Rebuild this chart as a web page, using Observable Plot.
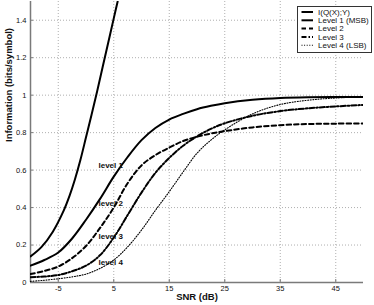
<!DOCTYPE html>
<html>
<head>
<meta charset="utf-8">
<script src="https://cdn.jsdelivr.net/npm/d3@7"></script>
<script src="https://cdn.jsdelivr.net/npm/@observablehq/plot@0.6"></script>
<style>
  html, body { margin: 0; padding: 0; background: #fff; }
  #wrap { position: relative; width: 374px; height: 305px; font-family: "Liberation Sans", Arial, Helvetica, sans-serif; }
  #legend { position: absolute; left: 0; top: 0; pointer-events: none; }
</style>
</head>
<body>
<div id="wrap"></div>
<script>
// ---- data ----
const snrI  = [-10, -8, -6, -4, -3, -2, -1, 0, 1, 2, 3, 4, 5, 5.7];
const infoI = [0.139, 0.19, 0.27, 0.385, 0.46, 0.55, 0.655, 0.775, 0.895, 1.02, 1.15, 1.28, 1.41, 1.5];

const snrLevels = [-10, -7.5, -5, -2.5, 0, 2.5, 5, 7.5, 10, 12.5, 15, 17.5, 20, 22.5, 25, 30, 35, 40, 45, 50];
const level1 = [0.09, 0.12, 0.16, 0.235, 0.335, 0.445, 0.565, 0.67, 0.76, 0.825, 0.87, 0.9, 0.925, 0.943, 0.957, 0.975, 0.985, 0.989, 0.99, 0.99];
const level2 = [0.045, 0.062, 0.085, 0.13, 0.195, 0.29, 0.4, 0.53, 0.625, 0.68, 0.72, 0.755, 0.778, 0.795, 0.808, 0.828, 0.84, 0.846, 0.848, 0.849];
const level3 = [0.028, 0.032, 0.04, 0.06, 0.09, 0.145, 0.24, 0.36, 0.48, 0.585, 0.665, 0.73, 0.78, 0.82, 0.85, 0.89, 0.915, 0.93, 0.94, 0.948];
const level4 = [0.006, 0.012, 0.02, 0.03, 0.045, 0.075, 0.12, 0.19, 0.28, 0.385, 0.485, 0.59, 0.69, 0.76, 0.815, 0.9, 0.95, 0.973, 0.985, 0.99];

const seriesNames = ["I(Q(X);Y)", "Level 1 (MSB)", "Level 2", "Level 3", "Level 4 (LSB)"];

const xTicks = [-5, 5, 15, 25, 35, 45];
const yTicks = [0, 0.2, 0.4, 0.6, 0.8, 1, 1.2, 1.4];
const yTickLabels = ["0", "0.2", "0.4", "0.6", "0.8", "1", "1.2", "1.4"];

const inlineLabels = ["level 1", "level 2", "level 3", "level 4"];
const inlineLabelX = [2.25, 2.25, 2.25, 2.25];
const inlineLabelY = [0.626, 0.424, 0.246, 0.109];

// ---- styles ----
const styles = [
  {strokeWidth: 2, dash: null},
  {strokeWidth: 2, dash: null},
  {strokeWidth: 2, dash: "4.5,3"},
  {strokeWidth: 2, dash: "5,2,1.5,2"},
  {strokeWidth: 1.1, dash: "1,1.6"}
];

const seriesData = [
  snrI.map((s, i) => ({snr: s, v: infoI[i]})),
  snrLevels.map((s, i) => ({snr: s, v: level1[i]})),
  snrLevels.map((s, i) => ({snr: s, v: level2[i]})),
  snrLevels.map((s, i) => ({snr: s, v: level3[i]})),
  snrLevels.map((s, i) => ({snr: s, v: level4[i]}))
];

const labelRows = inlineLabels.map((t, i) => ({t, x: inlineLabelX[i], y: inlineLabelY[i]}));

const W = 374, H = 305, ML = 30, MR = 11, MT = 1, MB = 23;
const gridStyle = {stroke: "#9a9a9a", strokeOpacity: 1, strokeWidth: 0.8, strokeDasharray: "1,2"};

const chart = Plot.plot({
  width: W, height: H,
  marginLeft: ML, marginRight: MR, marginTop: MT, marginBottom: MB,
  style: {fontFamily: "Liberation Sans, Arial, Helvetica, sans-serif", background: "#fff", color: "#111"},
  x: {domain: [-10, 50]},
  y: {domain: [0, 1.5]},
  marks: [
    Plot.gridX(xTicks, gridStyle),
    Plot.gridY(yTicks, gridStyle),
    Plot.ruleY([0], {stroke: "#7a7a7a", strokeWidth: 1.5}),
    Plot.ruleX([-10], {stroke: "#7a7a7a", strokeWidth: 1.5}),
    Plot.tickX(xTicks, {x: d => d, insetTop: H - MT - MB - 3, stroke: "#7a7a7a"}),
    Plot.tickY(yTicks, {y: d => d, insetRight: W - ML - MR - 3, stroke: "#7a7a7a"}),
    ...seriesData.map((d, i) => Plot.line(d, {
      x: "snr", y: "v", stroke: "#000",
      strokeWidth: styles[i].strokeWidth,
      strokeDasharray: styles[i].dash,
      curve: "catmull-rom", clip: true
    })),
    Plot.text(labelRows, {x: "x", y: "y", text: "t", textAnchor: "start", fontWeight: "bold", fontSize: 8, fill: "#111"}),
    Plot.axisX({ticks: xTicks, tickSize: 0, tickPadding: 3, fontSize: 7.5, tickFormat: d => String(d), label: null}),
    Plot.axisY({ticks: yTicks, tickSize: 0, tickPadding: 4, fontSize: 7.5, tickFormat: d => yTickLabels[yTicks.indexOf(d)], label: null}),
    Plot.text(["SNR (dB)"], {frameAnchor: "bottom", dy: 17, fontWeight: "bold", fontSize: 9.5, fill: "#111"}),
    Plot.text(["Information (bits/symbol)"], {frameAnchor: "left", dx: -22, rotate: -90, fontWeight: "bold", fontSize: 9.5, fill: "#111"})
  ]
});

const wrap = document.getElementById("wrap");
wrap.appendChild(chart);

// ---- legend overlay (inside the axes, top-right) ----
const lg = d3.select(wrap).append("svg")
  .attr("id", "legend").attr("width", W).attr("height", H);
const bx = 297, by = 6, bw = 74, bh = 46, rowH = 8.3;
lg.append("rect").attr("x", bx + 0.5).attr("y", by + 0.5).attr("width", bw).attr("height", bh)
  .attr("fill", "#fff").attr("stroke", "#333").attr("stroke-width", 1);
seriesNames.forEach((name, i) => {
  const cy = by + 6 + i * rowH;
  lg.append("line").attr("x1", bx + 4.5).attr("x2", bx + 16).attr("y1", cy).attr("y2", cy)
    .attr("stroke", "#000").attr("stroke-width", styles[i].strokeWidth)
    .attr("stroke-dasharray", styles[i].dash);
  lg.append("text").attr("x", bx + 21).attr("y", cy).attr("dy", "0.35em")
    .attr("font-size", 8).attr("fill", "#111")
    .attr("font-family", "Liberation Sans, Arial, Helvetica, sans-serif")
    .text(name);
});
</script>
</body>
</html>
